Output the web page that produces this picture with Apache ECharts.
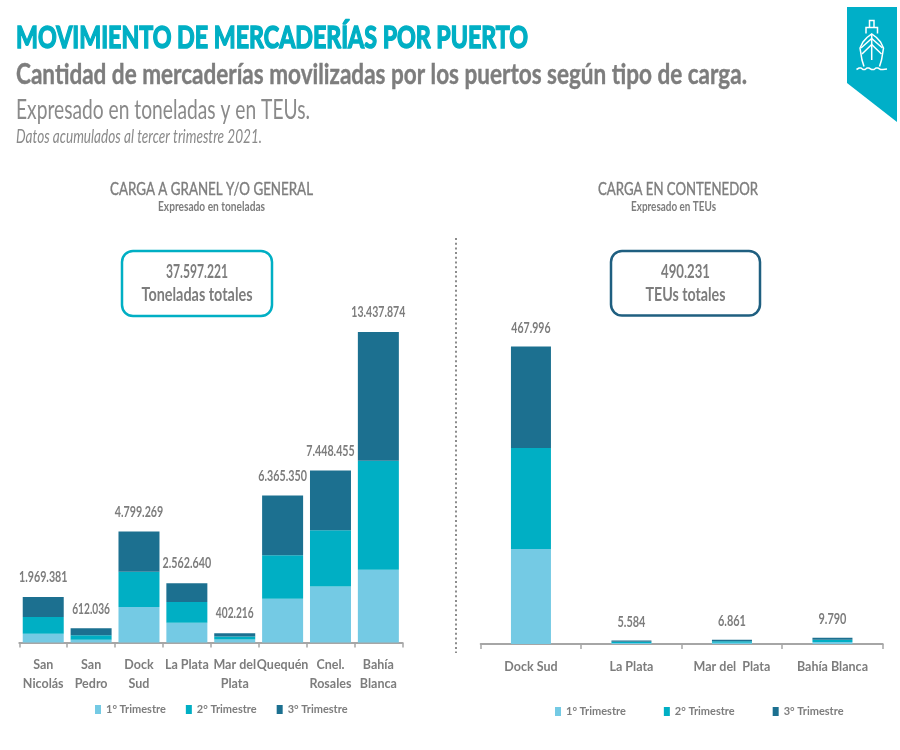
<!DOCTYPE html>
<html><head><meta charset="utf-8">
<style>html,body{margin:0;padding:0;background:#fff}#c{width:900px;height:750px}</style>
<script src="https://cdn.jsdelivr.net/npm/echarts@6/dist/echarts.min.js"></script>
</head><body><div id="c"></div>
<script>
const granelPorts = ['San\nNicolás','San\nPedro','Dock\nSud','La Plata','Mar del\nPlata','Quequén','Cnel.\nRosales','Bahía\nBlanca'];
const granelQ1 = [376000,115000,1532000,853000,125000,1891000,2424000,3146000];
const granelQ2 = [723000,200000,1528000,896000,135000,1883000,2432000,4717000];
const granelQ3 = [870381,297036,1739269,813640,142216,2591350,2592455,5574874];
const granelTotals = [1969381,612036,4799269,2562640,402216,6365350,7448455,13437874];
const teuPorts = ['Dock Sud','La Plata','Mar del  Plata','Bahía Blanca'];
const teuQ1 = [149400,1700,2100,3000];
const teuQ2 = [158900,1900,2400,3500];
const teuQ3 = [159696,1984,2361,3290];
const teuTotals = [467996,5584,6861,9790];
const seriesNames = ['1° Trimestre','2° Trimestre','3° Trimestre'];
const colors = ['#74cae4','#00afc4','#1c7090'];
const gray = '#7d7d7d';
const face = 'Lato';
const fmt = v => String(v).replace(/\B(?=(\d{3})+$)/g,'.');

const measure = document.createElement('canvas').getContext('2d');
function text(x,y,t,size,color,weight,align,targetW,italic,stroke,sw){
  const fs = italic?'italic':'normal';
  measure.font = fs+' '+(weight||'normal')+' '+size+'px '+face;
  const sx = targetW ? targetW/measure.measureText(t).width : 1;
  return {type:'text',x:x,y:y,scaleX:sx,silent:true,
    style:{text:t,fill:color,fontFamily:face,fontStyle:fs,fontWeight:weight||'normal',fontSize:size,
      textAlign:align||'left',textVerticalAlign:'middle',stroke:stroke||null,lineWidth:stroke?(sw||0.8):0}};
}
function seriesFor(idx, q, totals, width, labelGap, charW){
  const s = q.map((d,i)=>({name:seriesNames[i],type:'bar',stack:'t'+idx,xAxisIndex:idx,yAxisIndex:idx,
    barWidth:width,data:d,itemStyle:{color:colors[i]},silent:true}));
  s.push({name:'Total',type:'custom',coordinateSystem:'cartesian2d',xAxisIndex:idx,yAxisIndex:idx,silent:true,clip:false,
    data:totals.map((v,i)=>[i,v]),encode:{x:0,y:1},
    renderItem:(p,api)=>{
      const c = api.coord([api.value(0),api.value(1)]);
      const t = fmt(api.value(1));
      return text(c[0],c[1]-labelGap,t,16,gray,'bold','center',t.length*charW);
    }});
  return s;
}
function xAxis(idx,cats){return {type:'category',gridIndex:idx,data:cats,
  axisLine:{show:true,lineStyle:{color:'#a6a6a6',width:2}},
  axisTick:{show:true,length:5,lineStyle:{color:'#a6a6a6',width:1.5}},
  axisLabel:{interval:0,fontFamily:face,fontWeight:'bold',fontSize:12.5,lineHeight:19,color:gray,margin:idx?13:13}};}
function yAxis(idx,max){return {type:'value',gridIndex:idx,min:0,max:max,show:false,splitLine:{show:false}};}
function legend(left,top,gap){return {left:left,top:top,itemWidth:6,itemHeight:9,itemGap:gap,icon:'rect',
  data:seriesNames,selectedMode:false,
  textStyle:{fontFamily:face,fontWeight:'bold',fontSize:11,color:gray}};}
const shipLines = [
  [[869.5,27],[869.5,20.5],[874,20.5],[874,27]],
  [[866,33.5],[866,27.5],[877.5,27.5],[877.5,33.5]],
  [[864,66.5],[862,60],[860,48],[863,42],[867,37.5],[871.7,34],[876.5,37.5],[880.5,42],[883.5,48],[881.5,60],[879.5,66.5]],
  [[871.7,34],[871.7,60]],
  [[861,48],[871.7,38.5],[882.5,48]],
  [[862,54],[871.7,44.5],[881.5,54]],
  [[856.5,69.5],[859,68],[861,68],[863,69.5],[865,69.5],[867,68],[869,68],[871.5,69.5],[874,69.5],[876,68],[878,68],[880.5,69.5],[883,69.5],[887,69]]
];
const chart = echarts.init(document.getElementById('c'),null,{renderer:'canvas'});
chart.setOption({
  animation:false,backgroundColor:'#fff',
  grid:[{left:19.3,width:383,top:332,height:310.5},{left:480.7,width:402,top:346.5,height:297.5}],
  xAxis:[xAxis(0,granelPorts),xAxis(1,teuPorts)],
  yAxis:[yAxis(0,13437874),yAxis(1,467996)],
  legend:[legend(90,699,20),legend(550,701,38)],
  series:[...seriesFor(0,[granelQ1,granelQ2,granelQ3],granelTotals,41,20,5.4),
          ...seriesFor(1,[teuQ1,teuQ2,teuQ3],teuTotals,40,19,5.6)],
  graphic:[
    text(16,38,'MOVIMIENTO DE MERCADERÍAS POR PUERTO',31,'#00afc4','bold','left',512,false,'#00afc4',1.5),
    text(16,75,'Cantidad de mercaderías movilizadas por los puertos según tipo de carga.',28,gray,'bold','left',731,false,gray,0.4),
    text(16,110,'Expresado en toneladas y en TEUs.',27,'#8a8a8a','normal','left',294),
    text(16,137,'Datos acumulados al tercer trimestre 2021.',20,'#8a8a8a','normal','left',246,true),
    text(211.5,189,'CARGA A GRANEL Y/O GENERAL',18,gray,'normal','center',203,false,gray,0.4),
    text(211.5,207,'Expresado en toneladas',12.5,gray,'bold','center',107),
    text(678,189,'CARGA EN CONTENEDOR',18,gray,'normal','center',160,false,gray,0.4),
    text(673.5,207,'Expresado en TEUs',12.5,gray,'bold','center',85),
    {type:'rect',silent:true,shape:{x:122,y:251,width:150,height:65,r:11},style:{fill:'#fff',stroke:'#00afc4',lineWidth:2.5}},
    {type:'rect',silent:true,shape:{x:611,y:251,width:149,height:64.5,r:11},style:{fill:'#fff',stroke:'#1f5f80',lineWidth:2.5}},
    text(197,272,'37.597.221',18,gray,'bold','center',62),
    text(197,295,'Toneladas totales',18,gray,'bold','center',111),
    text(685.5,272,'490.231',18,gray,'bold','center',49),
    text(685.5,295,'TEUs totales',18,gray,'bold','center',80),
    {type:'line',silent:true,shape:{x1:456,y1:238,x2:456,y2:653},style:{stroke:'#8c8c8c',lineWidth:2,lineDash:[2,2.7]}},
    {type:'polygon',silent:true,shape:{points:[[847,7],[897,7],[897,122],[847,83]]},style:{fill:'#00afc8'}},
    ...shipLines.map(p=>({type:'polyline',silent:true,shape:{points:p},style:{fill:null,stroke:'#fff',lineWidth:1.5}}))
  ]
});
</script></body></html>
